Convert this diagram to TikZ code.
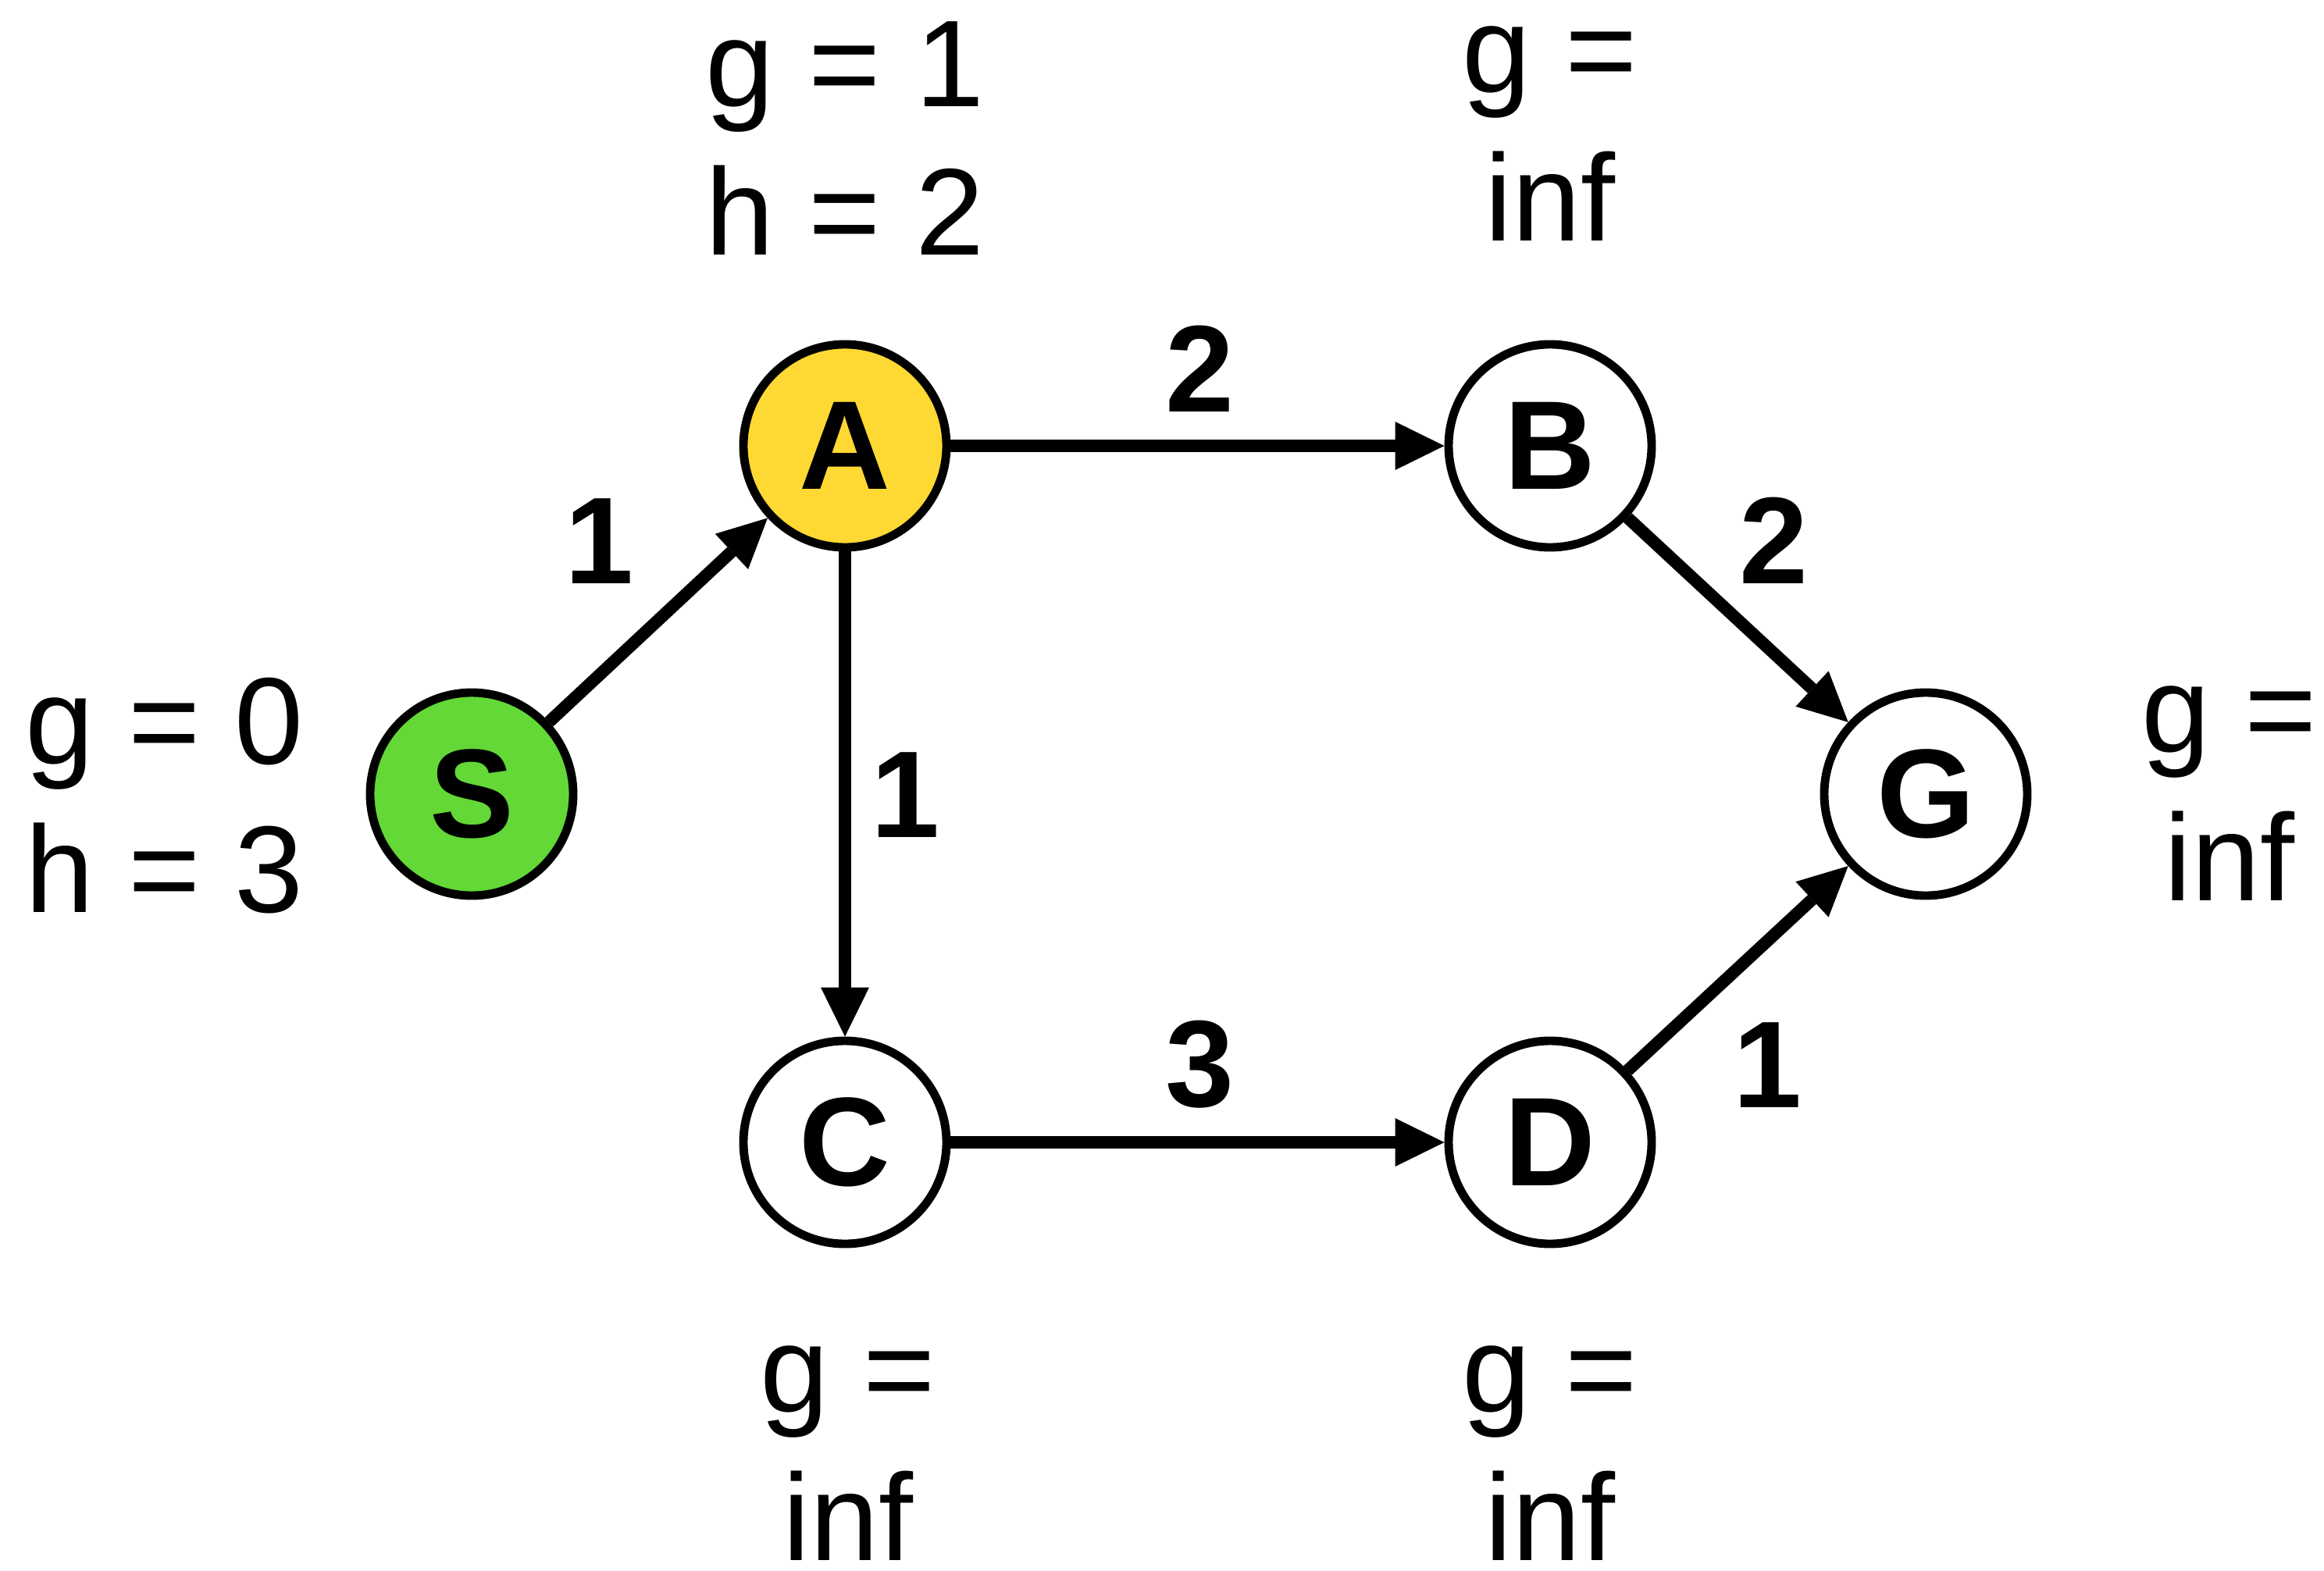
\documentclass[tikz,border=0pt]{standalone}
\usepackage{fontspec}
\setmainfont{Liberation Sans}
\usetikzlibrary{arrows.meta}

\definecolor{startgreen}{RGB}{99,216,54}
\definecolor{openyellow}{RGB}{255,217,51}

\tikzset{
    vertex/.style={circle, draw, line width=3.1pt, minimum size=2.6cm, inner sep=0pt,
        font=\fontsize{46}{50}\selectfont\bfseries},
    cost/.style={align=center, inner sep=0pt, anchor=south,
        font=\fontsize{45}{54}\selectfont},
    weight/.style={inner sep=0pt, font=\fontsize{45}{50}\selectfont\bfseries},
    link/.style={line width=4.5pt, -{Triangle[length=0.63cm, width=0.62cm, line width=0pt]}},
}

\begin{document}
\begin{tikzpicture}
                \useasboundingbox (0,0) rectangle (29.76,-20.12);

                %Nodes
                \node[vertex, fill=startgreen] at (6.04,-10.17) (S) {S};
                \node[vertex, fill=openyellow] at (10.82,-5.71) (A) {A};
                \node[vertex] at (19.85,-5.71) (B) {B};
                \node[vertex] at (10.82,-14.63) (C) {C};
                \node[vertex] at (19.85,-14.63) (D) {D};
                \node[vertex] at (24.66,-10.17) (G) {G};

                %Costs
                \node[cost] at (2.11,-11.71) (costS) {g = 0\\h = 3};
                \node[cost] at (10.82,-3.27) (costA) {g = 1\\h = 2};
                \node[cost] at (19.85,-3.09) (costB) {g =\\inf};
                \node[cost] at (10.86,-19.99) (costC) {g =\\inf};
                \node[cost] at (19.85,-19.99) (costD) {g =\\inf};
                \node[cost] at (28.55,-11.54) (costG) {g =\\inf};

                %Weights
                \node[weight] at (7.67,-6.93) (wSA) {1};
                \node[weight] at (15.36,-4.72) (wAB) {2};
                \node[weight] at (11.59,-10.18) (wAC) {1};
                \node[weight] at (22.71,-6.92) (wBG) {2};
                \node[weight] at (15.36,-13.63) (wCD) {3};
                \node[weight] at (22.63,-13.64) (wDG) {1};

                %Lines
                \draw[link] (S) -- (A);
                \draw[link] (A) -- (B);
                \draw[link] (A) -- (C);
                \draw[link] (B) -- (G);
                \draw[link] (C) -- (D);
                \draw[link] (D) -- (G);
            \end{tikzpicture}
\end{document}
